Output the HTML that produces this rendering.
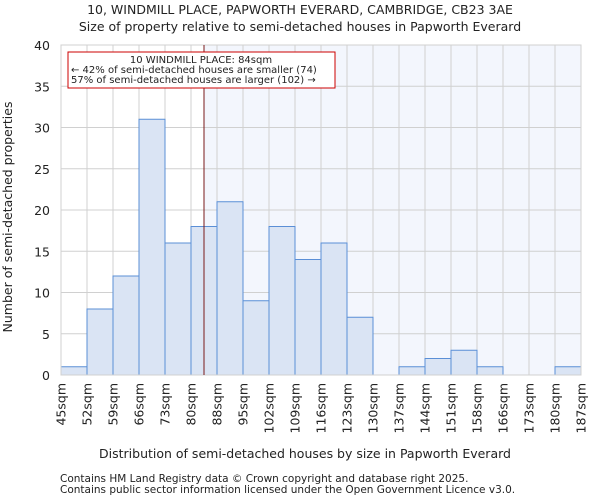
<!DOCTYPE html>
<html><head><meta charset="utf-8"><style>
body{margin:0;background:#fff;font-family:"DejaVu Sans","Liberation Sans",sans-serif}
svg text{font-family:"DejaVu Sans","Liberation Sans",sans-serif;fill:#222}
</style></head><body>
<svg id="c" width="600" height="500">
<text x="300" y="14" font-size="12.5" text-anchor="middle">10, WINDMILL PLACE, PAPWORTH EVERARD, CAMBRIDGE, CB23 3AE</text>
<text x="300" y="31" font-size="12.5" text-anchor="middle">Size of property relative to semi-detached houses in Papworth Everard</text>
<g id="plot"></g>
<text x="305" y="458" font-size="12.5" text-anchor="middle">Distribution of semi-detached houses by size in Papworth Everard</text>
<text x="12" y="217" font-size="12.5" text-anchor="middle" transform="rotate(-90 12 217)">Number of semi-detached properties</text>
<text x="60" y="482" font-size="10.5">Contains HM Land Registry data © Crown copyright and database right 2025.</text>
<text x="60" y="493" font-size="10.5">Contains public sector information licensed under the Open Government Licence v3.0.</text>
</svg>
<script>
const categories=["45sqm","52sqm","59sqm","66sqm","73sqm","80sqm","88sqm","95sqm","102sqm","109sqm","116sqm","123sqm","130sqm","137sqm","144sqm","151sqm","158sqm","166sqm","173sqm","180sqm","187sqm"];
const counts=[1,8,12,31,16,18,21,9,18,14,16,7,0,1,2,3,1,0,0,1];
const yTicks=[0,5,10,15,20,25,30,35,40];
const markerIndex=5.5; // 84sqm position in bin units
const NS="http://www.w3.org/2000/svg";
const L=61,R=581,T=45,B=375,yMax=40;
const bw=(R-L)/counts.length;
const x=i=>L+i*bw;
const y=v=>B-(v/yMax)*(B-T);
const g=document.getElementById('plot');
function mk(t,a){const e=document.createElementNS(NS,t);for(const k in a)e.setAttribute(k,a[k]);g.appendChild(e);return e;}
const mx=x(markerIndex);
let e=mk('rect',{x:mx,y:T,width:R-mx,height:B-T,fill:'#f3f6fd'});


for(let i=0;i<=counts.length;i++){e=mk('line',{x1:x(i),x2:x(i),y1:T,y2:B,stroke:'#d0d0d0'});

}
yTicks.forEach(v=>{e=mk('line',{x1:L,x2:R,y1:y(v),y2:y(v),stroke:'#d0d0d0'});


e=mk('text',{x:L-11,y:y(v)+5,'font-size':12.5,'text-anchor':'end'});e.textContent=v;

});
counts.forEach((c,i)=>{if(c<=0)return;e=mk('rect',{x:x(i),y:y(c),width:bw,height:B-y(c),fill:'#dae4f4',stroke:'#5b8fd6','stroke-width':1});

});
categories.forEach((c,i)=>{const px=x(i);e=mk('text',{x:px+4.5,y:B+8,'font-size':12.5,'text-anchor':'end',transform:`rotate(-90 ${px+4.5} ${B+8})`});e.textContent=c;

});
e=mk('rect',{x:L,y:T,width:R-L,height:B-T,fill:'none',stroke:'#d0d0d0'});


e=mk('line',{x1:mx,x2:mx,y1:T,y2:B,stroke:'#7a1a1a','stroke-width':1});


e=mk('rect',{x:68,y:52,width:267,height:36,fill:'#fff',stroke:'#cc0000'});


[["10 WINDMILL PLACE: 84sqm",201,'middle',62],["← 42% of semi-detached houses are smaller (74)",71,'start',72],["57% of semi-detached houses are larger (102) →",71,'start',82]].forEach(a=>{
e=mk('text',{x:a[1],y:a[3]+1,'font-size':10,'text-anchor':a[2]});e.textContent=a[0];

});
</script>
</body></html>
